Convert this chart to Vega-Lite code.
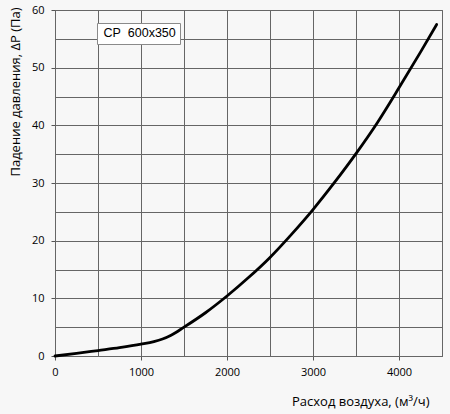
{
  "$schema": "https://vega.github.io/schema/vega-lite/v6.json",
  "width": 387,
  "height": 346,
  "autosize": {"type": "none"},
  "padding": {"left": 55, "top": 10, "right": 8, "bottom": 58},
  "background": "#f7f7f7",
  "data": {
    "values": [
      {"series": "CP\u00a0 600x350", "flow": 0, "dp": 0},
      {"series": "CP\u00a0 600x350", "flow": 250, "dp": 0.45},
      {"series": "CP\u00a0 600x350", "flow": 500, "dp": 0.95},
      {"series": "CP\u00a0 600x350", "flow": 750, "dp": 1.45},
      {"series": "CP\u00a0 600x350", "flow": 1000, "dp": 2.05},
      {"series": "CP\u00a0 600x350", "flow": 1150, "dp": 2.5},
      {"series": "CP\u00a0 600x350", "flow": 1250, "dp": 2.95},
      {"series": "CP\u00a0 600x350", "flow": 1350, "dp": 3.6},
      {"series": "CP\u00a0 600x350", "flow": 1500, "dp": 5.0},
      {"series": "CP\u00a0 600x350", "flow": 1750, "dp": 7.5},
      {"series": "CP\u00a0 600x350", "flow": 2000, "dp": 10.4},
      {"series": "CP\u00a0 600x350", "flow": 2250, "dp": 13.6},
      {"series": "CP\u00a0 600x350", "flow": 2500, "dp": 17.1},
      {"series": "CP\u00a0 600x350", "flow": 2750, "dp": 21.1},
      {"series": "CP\u00a0 600x350", "flow": 3000, "dp": 25.4},
      {"series": "CP\u00a0 600x350", "flow": 3250, "dp": 30.1},
      {"series": "CP\u00a0 600x350", "flow": 3500, "dp": 35.1},
      {"series": "CP\u00a0 600x350", "flow": 3750, "dp": 40.5},
      {"series": "CP\u00a0 600x350", "flow": 4000, "dp": 46.5},
      {"series": "CP\u00a0 600x350", "flow": 4250, "dp": 52.7},
      {"series": "CP\u00a0 600x350", "flow": 4438, "dp": 57.5}
    ]
  },
  "mark": {"type": "line", "interpolate": "monotone", "strokeWidth": 2.8, "strokeCap": "round"},
  "encoding": {
    "x": {
      "field": "flow",
      "type": "quantitative",
      "scale": {"domain": [0, 4500], "nice": false},
      "axis": {
        "values": [0, 500, 1000, 1500, 2000, 2500, 3000, 3500, 4000, 4500],
        "labelExpr": "datum.value % 1000 === 0 ? datum.label : ''",
        "format": "d",
        "tickOpacity": {"condition": {"test": "datum.value % 1000 === 0 && datum.value < 4500", "value": 1}, "value": 0},
        "title": "Расход воздуха, (м³/ч)",
        "titleX": 374,
        "titleY": 49,
        "titleAlign": "right",
        "titleBaseline": "alphabetic"
      }
    },
    "y": {
      "field": "dp",
      "type": "quantitative",
      "scale": {"domain": [0, 60], "nice": false},
      "axis": {
        "values": [0, 5, 10, 15, 20, 25, 30, 35, 40, 45, 50, 55, 60],
        "labelExpr": "datum.value % 10 === 0 ? datum.label : ''",
        "tickOpacity": {"condition": {"test": "datum.value % 10 === 0", "value": 1}, "value": 0},
        "labelPadding": 7,
        "title": "Падение давления, ΔP (Па)",
        "titleAnchor": "end",
        "titleAlign": "right",
        "titleBaseline": "middle",
        "titleX": -40,
        "titleY": -3
      }
    },
    "color": {
      "field": "series",
      "type": "nominal",
      "scale": {"range": ["#000000"]},
      "legend": {
        "title": null,
        "orient": "none",
        "legendX": 42,
        "legendY": 13,
        "padding": 4,
        "fillColor": "#ffffff",
        "strokeColor": "#8a8a8a",
        "symbolType": "circle",
        "symbolSize": 0.01,
        "symbolOpacity": 0,
        "symbolStrokeWidth": 0,
        "labelOffset": -10,
        "labelFont": "Liberation Sans",
        "labelFontSize": 12.5,
        "labelColor": "#000000"
      }
    }
  },
  "config": {
    "view": {"stroke": "#666666", "strokeWidth": 1},
    "axis": {
      "grid": true,
      "gridColor": "#666666",
      "gridOpacity": 1,
      "gridWidth": 1,
      "domainColor": "#666666",
      "tickColor": "#555555",
      "tickSize": 4,
      "labelFlush": false,
      "labelFont": "Open Sans",
      "labelFontSize": 11,
      "labelColor": "#000000",
      "titleFont": "Open Sans",
      "titleFontSize": 13,
      "titleFontWeight": "normal",
      "titleColor": "#000000"
    },
    "axisX": {"labelPadding": 6}
  }
}
